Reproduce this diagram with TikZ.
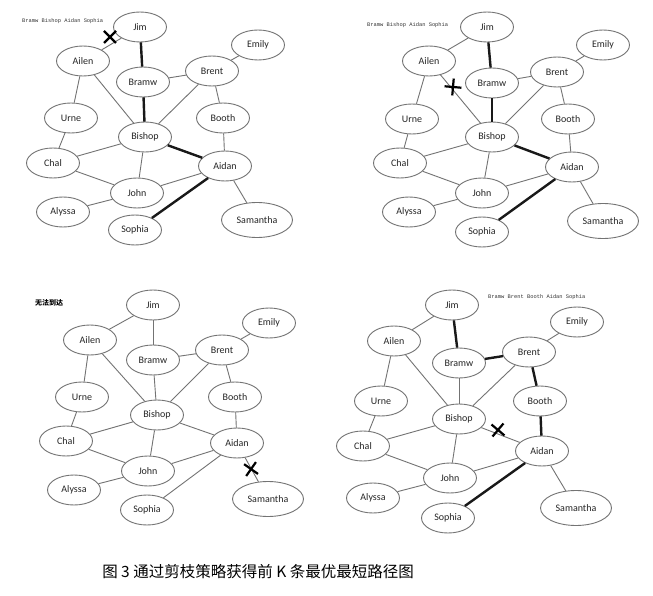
\documentclass[tikz,border=0pt]{standalone}
\usepackage{fontspec}
\setmainfont{Carlito}
\newfontfamily\cjk{Noto Sans CJK SC}
\newfontfamily\monof{Liberation Mono}
\usetikzlibrary{shapes.geometric}
\tikzset{
  nd/.style={ellipse, draw=black!55, line width=0.9pt, fill=white, minimum width=53pt, minimum height=30pt, inner sep=0pt, font=\fontsize{10}{12}\selectfont, text=black!85},
  big/.style={minimum width=71pt, minimum height=35pt},
  ed/.style={draw=black!55, line width=0.9pt},
  th/.style={draw=black!90, line width=2.4pt},
  cut/.style={draw=black, line width=2.2pt},
  lab/.style={anchor=west, inner sep=0pt, font=\monof\fontsize{5.4}{6}\selectfont, text=black!80}
}
\newcommand\allnodes[2]{}
\newcommand\alledges[1]{%
  \draw[ed] (#1-jim) -- (#1-ailen);
  \draw[ed] (#1-jim) -- (#1-bramw);
  \draw[ed] (#1-bramw) -- (#1-brent);
  \draw[ed] (#1-bramw) -- (#1-bishop);
  \draw[ed] (#1-emily) -- (#1-brent);
  \draw[ed] (#1-brent) -- (#1-booth);
  \draw[ed] (#1-brent) -- (#1-bishop);
  \draw[ed] (#1-ailen) -- (#1-urne);
  \draw[ed] (#1-ailen) -- (#1-bishop);
  \draw[ed] (#1-urne) -- (#1-chal);
  \draw[ed] (#1-chal) -- (#1-bishop);
  \draw[ed] (#1-chal) -- (#1-john);
  \draw[ed] (#1-bishop) -- (#1-john);
  \draw[ed] (#1-bishop) -- (#1-aidan);
  \draw[ed] (#1-booth) -- (#1-aidan);
  \draw[ed] (#1-aidan) -- (#1-john);
  \draw[ed] (#1-aidan) -- (#1-sophia);
  \draw[ed] (#1-aidan) -- (#1-samantha);
  \draw[ed] (#1-john) -- (#1-alyssa);
}
\newcommand\xmark[3]{% name, position, rotation
  \coordinate (#1) at (#2);
  \draw[cut, rotate around={#3:(#1)}] ([shift={(-6,-6)}]#1) -- ([shift={(6,6)}]#1);
  \draw[cut, rotate around={#3:(#1)}] ([shift={(-6,6)}]#1) -- ([shift={(6,-6)}]#1);
}
\begin{document}
\begin{tikzpicture}[x=1pt, y=-1pt]
\useasboundingbox (0,0) rectangle (653,596);
\fill[white] (0,0) rectangle (653,596);

% ---------- Panel A ----------
\node[nd] (a-jim) at (140,27) {Jim};
\node[nd] (a-emily) at (258,45) {Emily};
\node[nd] (a-ailen) at (83,61) {Ailen};
\node[nd] (a-brent) at (212,71) {Brent};
\node[nd] (a-bramw) at (143,82) {Bramw};
\node[nd] (a-urne) at (71,118) {Urne};
\node[nd] (a-booth) at (223,118) {Booth};
\node[nd] (a-bishop) at (145,137) {Bishop};
\node[nd] (a-chal) at (53,163) {Chal};
\node[nd] (a-aidan) at (225,166) {Aidan};
\node[nd] (a-john) at (137,193) {John};
\node[nd] (a-alyssa) at (63,212) {Alyssa};
\node[nd] (a-sophia) at (135,230) {Sophia};
\node[nd,big] (a-samantha) at (257,220) {Samantha};
\alledges{a}
\draw[th] (a-jim) -- (a-bramw);
\draw[th] (a-bramw) -- (a-bishop);
\draw[th] (a-bishop) -- (a-aidan);
\draw[th] (a-aidan) -- (a-sophia);
\xmark{a-x}{110,37}{0}
\node[lab] (a-lab) at (22,21) {Bramw Bishop Aidan Sophia};

% ---------- Panel B ----------
\node[nd] (b-jim) at (487,27) {Jim};
\node[nd] (b-emily) at (603,45) {Emily};
\node[nd] (b-ailen) at (429,61) {Ailen};
\node[nd] (b-brent) at (557,72) {Brent};
\node[nd] (b-bramw) at (492,83) {Bramw};
\node[nd] (b-urne) at (412,119) {Urne};
\node[nd] (b-booth) at (568,119) {Booth};
\node[nd] (b-bishop) at (492,137) {Bishop};
\node[nd] (b-chal) at (400,163) {Chal};
\node[nd] (b-aidan) at (572,167) {Aidan};
\node[nd] (b-john) at (482,193) {John};
\node[nd] (b-alyssa) at (409,212) {Alyssa};
\node[nd] (b-sophia) at (482,232) {Sophia};
\node[nd,big] (b-samantha) at (603,221) {Samantha};
\alledges{b}
\draw[th] (b-jim) -- (b-bramw);
\draw[th] (b-bramw) -- (b-bishop);
\draw[th] (b-bishop) -- (b-aidan);
\draw[th] (b-aidan) -- (b-sophia);
\xmark{b-x}{453,87}{40}
\node[lab] (b-lab) at (367,25) {Bramw Bishop Aidan Sophia};

% ---------- Panel C ----------
\node[nd] (c-jim) at (153,305) {Jim};
\node[nd] (c-emily) at (269,323) {Emily};
\node[nd] (c-ailen) at (90,340) {Ailen};
\node[nd] (c-brent) at (222,350) {Brent};
\node[nd] (c-bramw) at (153,360) {Bramw};
\node[nd] (c-urne) at (82,397) {Urne};
\node[nd] (c-booth) at (235,397) {Booth};
\node[nd] (c-bishop) at (157,415) {Bishop};
\node[nd] (c-chal) at (66,441) {Chal};
\node[nd] (c-aidan) at (237,443) {Aidan};
\node[nd] (c-john) at (148,471) {John};
\node[nd] (c-alyssa) at (74,490) {Alyssa};
\node[nd] (c-sophia) at (147,510) {Sophia};
\node[nd,big] (c-samantha) at (268,499) {Samantha};
\alledges{c}
\xmark{c-x}{251,469}{10}
\node[anchor=west, inner sep=0pt, font=\cjk\bfseries\fontsize{7}{8}\selectfont] (c-lab) at (35,303) {无法到达};

% ---------- Panel D ----------
\node[nd] (d-jim) at (452,305) {Jim};
\node[nd] (d-emily) at (577,322) {Emily};
\node[nd] (d-ailen) at (394,341) {Ailen};
\node[nd] (d-brent) at (529,352) {Brent};
\node[nd] (d-bramw) at (459,363) {Bramw};
\node[nd] (d-urne) at (381,401) {Urne};
\node[nd] (d-booth) at (540,401) {Booth};
\node[nd] (d-bishop) at (459,419) {Bishop};
\node[nd] (d-chal) at (363,446) {Chal};
\node[nd] (d-aidan) at (542,451) {Aidan};
\node[nd] (d-john) at (450,478) {John};
\node[nd] (d-alyssa) at (373,498) {Alyssa};
\node[nd] (d-sophia) at (448,518) {Sophia};
\node[nd,big] (d-samantha) at (576,508) {Samantha};
\alledges{d}
\draw[th] (d-jim) -- (d-bramw);
\draw[th] (d-bramw) -- (d-brent);
\draw[th] (d-brent) -- (d-booth);
\draw[th] (d-booth) -- (d-aidan);
\draw[th] (d-aidan) -- (d-sophia);
\xmark{d-x}{498,430}{5}
\node[lab] (d-lab) at (488,297) {Bramw Brent Booth Aidan Sophia};

% ---------- Caption ----------
\node[font=\cjk\fontsize{15.5}{18}\selectfont, inner sep=0pt] (cap) at (258,572) {图 3 通过剪枝策略获得前 K 条最优最短路径图};
\end{tikzpicture}
\end{document}
